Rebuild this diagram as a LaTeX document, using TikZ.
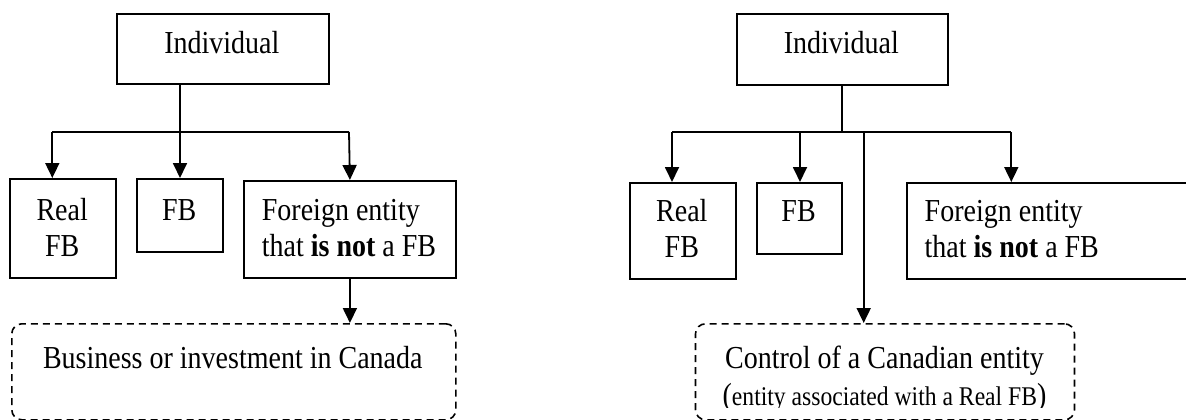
\documentclass[tikz,border=0pt]{standalone}
\usepackage{fontspec}
\setmainfont{Liberation Serif}[FakeStretch=0.875]
\usetikzlibrary{arrows.meta}
\begin{document}
\begin{tikzpicture}[x=1pt,y=-1pt,
  box/.style={draw,line width=1.8pt,inner sep=0pt,anchor=north west},
  dbox/.style={draw,line width=1.6pt,inner sep=0pt,anchor=north west,dash pattern=on 7pt off 5pt,rounded corners=10pt},
  conn/.style={line width=1.8pt},
  arr/.style={line width=1.8pt,-{Triangle[width=14pt,length=15pt]}},
  txt/.style={inner sep=0pt,anchor=base,font=\fontsize{32}{36}\selectfont},
  txtl/.style={inner sep=0pt,anchor=base west,font=\fontsize{32}{36}\selectfont},
  small/.style={inner sep=0pt,anchor=base,font=\fontsize{27}{30}\selectfont}]
\useasboundingbox (0,0) rectangle (1186,420);
\clip (0,0) rectangle (1186,420);
% ---------- left diagram ----------
\node[box,minimum width=211.7pt,minimum height=70pt] (ind1) at (116,13) {};
\node[box,minimum width=106.3pt,minimum height=99pt] (real1) at (9,178) {};
\node[box,minimum width=85.7pt,minimum height=73pt] (fb1) at (136.3,178) {};
\node[box,minimum width=212pt,minimum height=97pt] (for1) at (243,180) {};
\node[dbox,minimum width=444pt,minimum height=96pt] (dash1) at (11,323) {};
\node[txt] (t-ind1) at (221.8,53.3) {Individual};
\node[txt] (t-real1a) at (62.2,220) {Real};
\node[txt] (t-real1b) at (62.2,256.5) {FB};
\node[txt] (t-fb1) at (179.2,220) {FB};
\node[txtl] (t-for1a) at (261.7,220.5) {Foreign entity};
\node[txtl] (t-for1b) at (261.7,256.7) {that \textbf{is not} a FB};
\node[txt] (t-bus) at (232.8,368) {Business or investment in Canada};
\coordinate (h1L) at (52.3,132);
\coordinate (h1M) at (180,132);
\coordinate (h1R) at (349,132);
\draw[conn] (h1L) -- (h1R);
\draw[arr] (h1L) -- (h1L |- real1.north);
\draw[arr] (ind1.south -| h1M) -- (h1M |- fb1.north);
\draw[arr] (h1R) -- (for1.north);
\draw[arr] (for1.south) -- (dash1.north -| for1.south);
% ---------- right diagram ----------
\node[box,minimum width=211.3pt,minimum height=71pt] (ind2) at (735.7,13) {};
\node[box,minimum width=105.7pt,minimum height=96pt] (real2) at (629,182) {};
\node[box,minimum width=85.3pt,minimum height=71pt] (fb2) at (756,182) {};
\node[box,minimum width=300pt,minimum height=96pt] (for2) at (905.7,182) {};
\node[dbox,minimum width=379pt,minimum height=96pt] (dash2) at (694.7,323) {};
\node[txt] (t-ind2) at (841.3,53.3) {Individual};
\node[txt] (t-real2a) at (681.8,221) {Real};
\node[txt] (t-real2b) at (681.8,257) {FB};
\node[txt] (t-fb2) at (798.6,221) {FB};
\node[txtl] (t-for2a) at (924.5,221) {Foreign entity};
\node[txtl] (t-for2b) at (924.5,257) {that \textbf{is not} a FB};
\node[txt] (t-ctl) at (884.5,368) {Control of a Canadian entity};
\begin{scope}
  \clip (700,372) rectangle (1070,407);
  \node[small] (t-ctl2) at (884.5,405) {{\fontsize{32}{36}\selectfont(}entity associated with a Real FB{\fontsize{32}{36}\selectfont)}};
\end{scope}
\coordinate (h2L) at (672,132);
\coordinate (h2F) at (800,132);
\coordinate (h2C) at (863.7,132);
\coordinate (h2R) at (1011.3,132);
\draw[conn] (h2L) -- (h2R);
\draw[conn] (ind2.south) -- (ind2.south |- h2L);
\draw[arr] (h2L) -- (h2L |- real2.north);
\draw[arr] (h2F) -- (h2F |- fb2.north);
\draw[arr] (h2R) -- (h2R |- for2.north);
\draw[arr] (h2C) -- (h2C |- dash2.north);
\end{tikzpicture}
\end{document}
